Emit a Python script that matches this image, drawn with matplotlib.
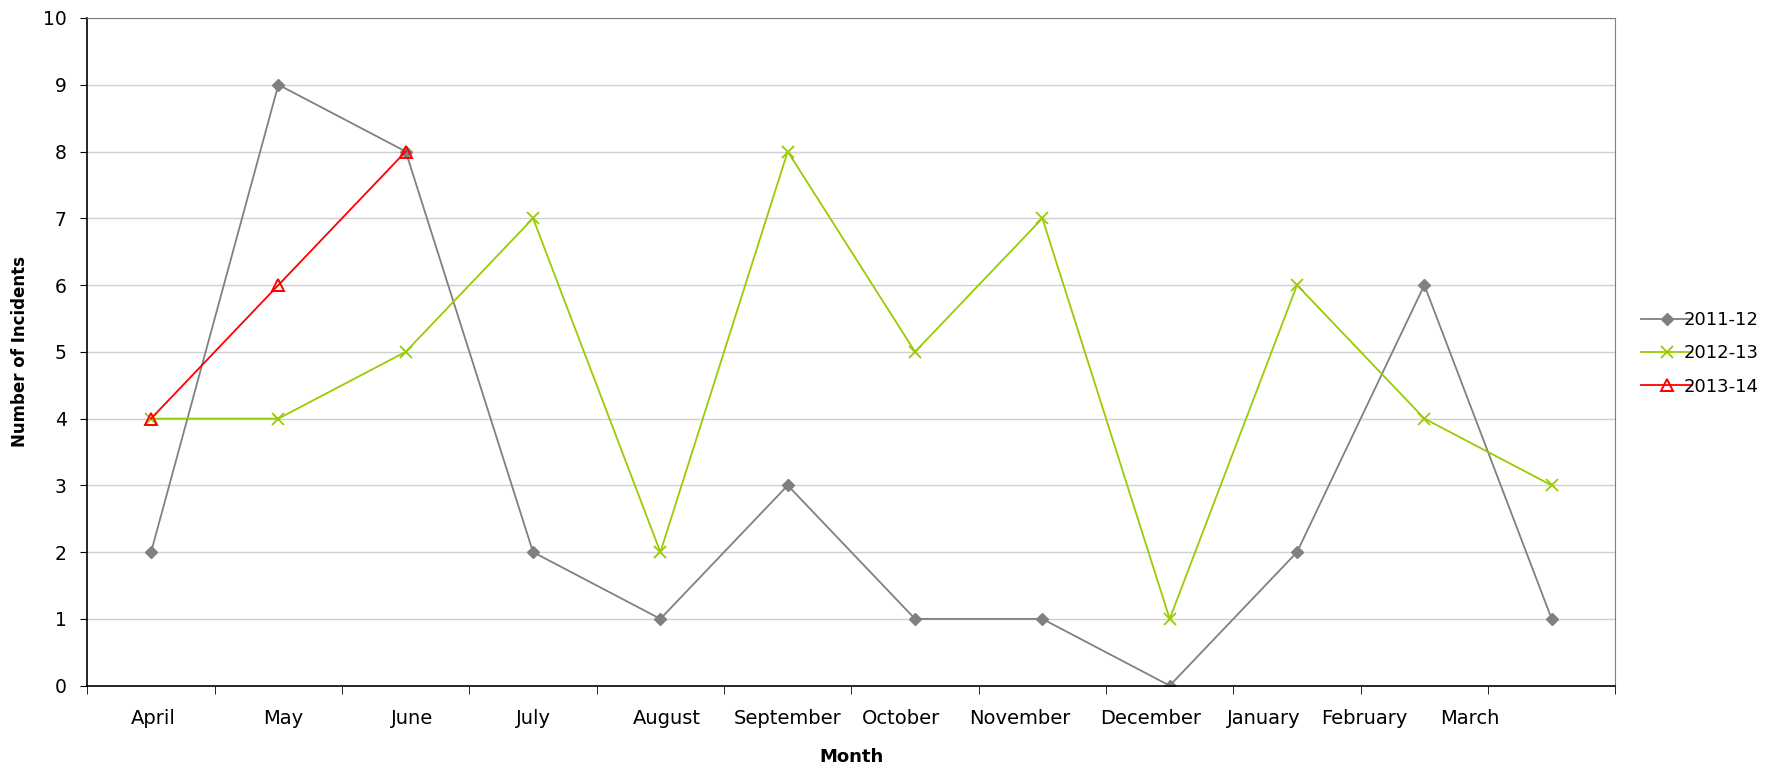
import matplotlib
matplotlib.use("Agg")
import matplotlib.pyplot as plt
import numpy as np

months = ["April", "May", "June", "July", "August", "September",
          "October", "November", "December", "January", "February", "March"]

inc_2011 = [2, 9, 8, 2, 1, 3, 1, 1, 0, 2, 6, 1]
inc_2012 = [4, 4, 5, 7, 2, 8, 5, 7, 1, 6, 4, 3]
inc_2013 = [4, 6, 8]

# labels in the original sit packed one after another, not under their points
label_pos = [0.02, 1.04, 2.05, 3.0, 4.05, 5.0, 5.89, 6.82, 7.85, 8.74, 9.53, 10.36]

plt.rcParams["font.family"] = ["DejaVu Sans"]

fig = plt.figure(figsize=(17.8, 7.68), dpi=100)
ax = fig.add_axes([0.0491, 0.1072, 0.8584, 0.8694])

x = np.arange(len(months))
ax.plot(x, inc_2011, color="#808080", lw=1.3, marker="D", ms=6.5,
        mfc="#808080", mec="#808080", label="2011-12")
ax.plot(x, inc_2012, color="#99CC00", lw=1.3, marker="x", ms=9, mew=1.3,
        label="2012-13")
ax.plot(x[:len(inc_2013)], inc_2013, color="#FF0000", lw=1.3, marker="^",
        ms=8, mfc="none", mec="#FF0000", mew=1.4, label="2013-14")

ax.set_xlim(-0.5, len(months) - 0.5)
ax.set_ylim(0, 10)
ax.set_yticks(range(11))
ax.tick_params(axis="y", labelsize=13.5, length=5, color="black", pad=10)
ax.yaxis.grid(True, color="#D0D0D0", lw=1)
ax.set_axisbelow(True)

ax.set_xticks(np.arange(-0.5, len(months)), minor=True)
ax.set_xticks(label_pos)
ax.set_xticklabels(months, fontsize=14)
ax.tick_params(axis="x", which="major", length=0, pad=17)
ax.tick_params(axis="x", which="minor", length=6, color="black")

for s in ["top", "right"]:
    ax.spines[s].set_color("#808080")
for s in ["left", "bottom"]:
    ax.spines[s].set_color("black")
    ax.spines[s].set_linewidth(1.2)

ax.set_ylabel("Number of Incidents", fontsize=12, fontweight="bold", labelpad=10)
ax.set_xlabel("Month", fontsize=13, fontweight="bold", labelpad=14)

ax.legend(loc="center left", bbox_to_anchor=(0.913, 0.54),
          bbox_transform=fig.transFigure, frameon=False, fontsize=13,
          handlelength=2.8, handletextpad=-0.45, labelspacing=0.85)

fig.savefig("out.png", dpi=100)
